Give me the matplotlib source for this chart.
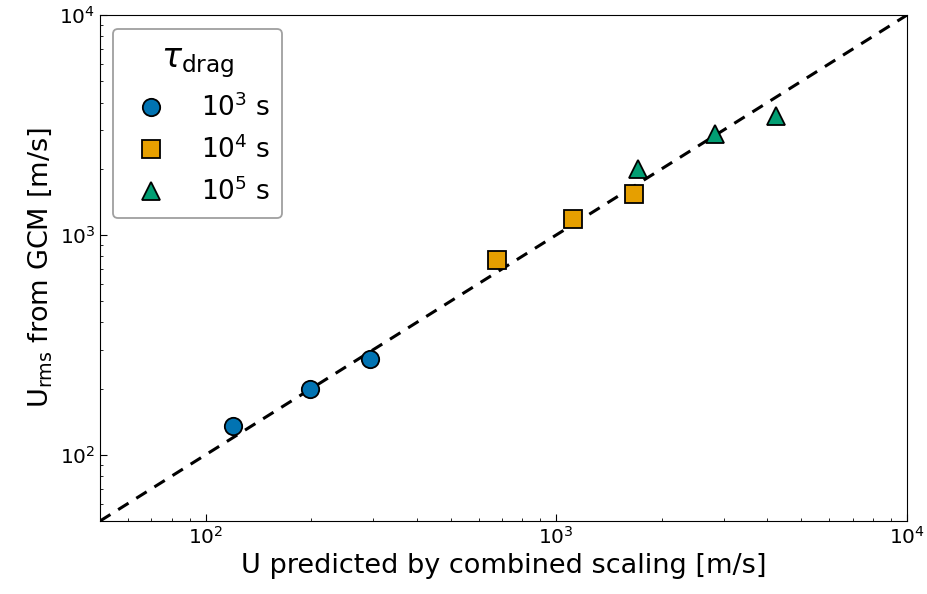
import matplotlib
matplotlib.use("Agg")
import matplotlib.pyplot as plt
import numpy as np

plt.rcParams['mathtext.fontset'] = 'dejavusans'

# Data
labels = ["$10^3$ s", "$10^4$ s", "$10^5$ s"]
markers = ["o", "s", "^"]
colors = ["#0173B2", "#E69F00", "#029E73"]
u_pred_1e3 = [120, 198, 295]
u_gcm_1e3 = [135, 199, 272]
u_pred_1e4 = [679, 1118, 1667]
u_gcm_1e4 = [771, 1182, 1535]
u_pred_1e5 = [1712, 2838, 4236]
u_gcm_1e5 = [1991, 2871, 3467]
line_range = [50, 1e4]

fig = plt.figure(figsize=(9.28, 5.94), dpi=100)
ax = fig.add_axes([0.1078, 0.1229, 0.8696, 0.8518])

ax.plot(line_range, line_range, 'k--', lw=2.2, dashes=(4, 3), zorder=1)
series = [(u_pred_1e3, u_gcm_1e3), (u_pred_1e4, u_gcm_1e4), (u_pred_1e5, u_gcm_1e5)]
for (xs, ys), m, c, lab in zip(series, markers, colors, labels):
    ax.plot(xs, ys, linestyle='none', marker=m, color=c, markersize=12.5,
            markeredgecolor='black', markeredgewidth=1.3, label=lab, zorder=3)

ax.set_xscale('log')
ax.set_yscale('log')
ax.set_xlim(50, 1e4)
ax.set_ylim(50, 1e4)
ax.tick_params(which='both', direction='in', labelsize=14.5, top=False, right=False)
ax.tick_params(which='major', length=5)
ax.tick_params(which='minor', length=2.5)
ax.set_xlabel("U predicted by combined scaling [m/s]", fontsize=19.5)
ax.set_ylabel(r"U$_{\rm rms}$ from GCM [m/s]", fontsize=19.5)

leg = ax.legend(title=r"$\tau_{\rm drag}$", fontsize=19, title_fontsize=24,
                loc='upper left', bbox_to_anchor=(0.016, 0.972), borderaxespad=0,
                markerscale=1.0, handletextpad=0.9, borderpad=0.45, labelspacing=0.52,
                frameon=True, edgecolor='#888888', fancybox=True)
leg.get_frame().set_linewidth(1.3)

fig.savefig("out.png", dpi=100)
